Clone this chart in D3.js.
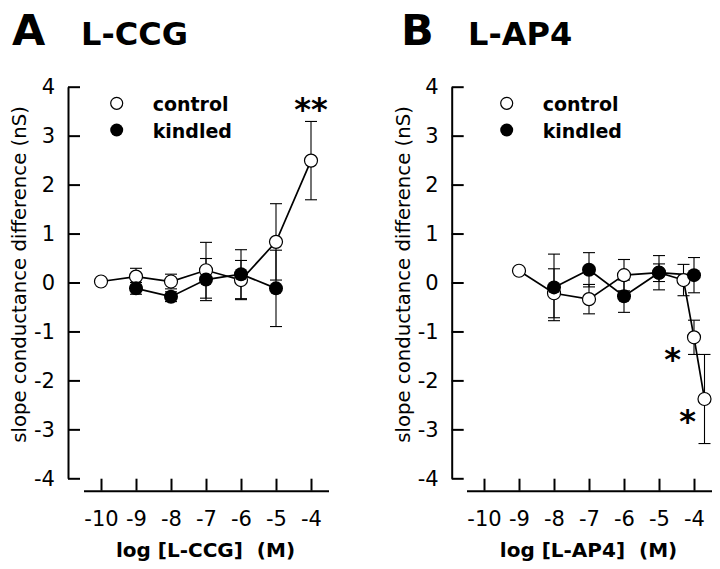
<!DOCTYPE html>
<html><head><meta charset="utf-8">
<script src="https://cdn.jsdelivr.net/npm/d3@7"></script>
<style>body{margin:0;background:#fff}svg{display:block}text{font-family:"DejaVu Sans",sans-serif;fill:#000;white-space:pre}</style>
</head><body><svg id="c" width="720" height="569"></svg>
<script>
const xTicks = [-10,-9,-8,-7,-6,-5,-4];
const yTicks = [-4,-3,-2,-1,0,1,2,3,4];

// Panel A: L-CCG
const ccgControlConc = [-10,-9,-8,-7,-6,-5,-4];
const ccgControl     = [0.02,0.12,0.02,0.25,0.05,0.83,2.49];
const ccgControlErr  = [0.04,0.17,0.15,0.57,0.40,0.78,0.80];
const ccgKindledConc = [-9,-8,-7,-6,-5];
const ccgKindled     = [-0.12,-0.29,0.06,0.17,-0.12];
const ccgKindledErr  = [0.12,0.10,0.43,0.50,0.78];
const ccgStars = [{x:-4.0, y:3.68, t:"**"}];

// Panel B: L-AP4
const ap4ControlConc = [-9,-8,-7,-6,-5,-4.3,-4,-3.7];
const ap4Control     = [0.24,-0.22,-0.34,0.15,0.20,0.05,-1.12,-2.38];
const ap4ControlErr  = [0.04,0.50,0.30,0.32,0.18,0.32,0.35,0.91];
const ap4KindledConc = [-8,-7,-6,-5,-4];
const ap4Kindled     = [-0.10,0.26,-0.28,0.20,0.15];
const ap4KindledErr  = [0.68,0.35,0.33,0.35,0.36];
const ap4Stars = [{x:-4.61, y:-1.43, t:"*"},{x:-4.18, y:-2.69, t:"*"}];

const panels = [
  {letter:"A", title:"L-CCG", xlabel:"log [L-CCG]  (M)", axisX:68, x0:83.5,
   letterX:12, titleX:81,
   control:{c:ccgControlConc, v:ccgControl, e:ccgControlErr},
   kindled:{c:ccgKindledConc, v:ccgKindled, e:ccgKindledErr},
   stars:ccgStars, legX:116.7, legTX:152.7},
  {letter:"B", title:"L-AP4", xlabel:"log [L-AP4]  (M)", axisX:451.7, x0:466.5,
   letterX:401, titleX:468,
   control:{c:ap4ControlConc, v:ap4Control, e:ap4ControlErr},
   kindled:{c:ap4KindledConc, v:ap4Kindled, e:ap4KindledErr},
   stars:ap4Stars, legX:506.7, legTX:542.7}
];

const svg = d3.select("#c");
const y = d3.scaleLinear().domain([-4,4]).range([478.3,86.7]);
const fmt = d => String(d);

panels.forEach(p => {
  const g = svg.append("g");
  const x = d3.scaleLinear().domain([-10.5,-3.5]).range([p.x0, p.x0+245]);

  // titles
  g.append("text").attr("x",p.letterX).attr("y",44.5).attr("font-size",43).attr("font-weight","bold").text(p.letter);
  g.append("text").attr("x",p.titleX).attr("y",44.5).attr("font-size",32).attr("font-weight","bold").text(p.title);

  // y axis
  const ya = g.append("g").attr("transform",`translate(${p.axisX},0)`)
    .call(d3.axisLeft(y).tickValues(yTicks).tickSize(-12).tickSizeOuter(0).tickPadding(13).tickFormat(fmt));
  ya.selectAll("path,line").attr("stroke","#000").attr("stroke-width",2);
  ya.selectAll("text").attr("font-size",21).attr("font-family","DejaVu Sans").attr("fill","#000");

  // x axis
  const xa = g.append("g").attr("transform","translate(0,490.7)")
    .call(d3.axisBottom(x).tickValues(xTicks).tickSize(-12).tickSizeOuter(0).tickPadding(20).tickFormat(fmt));
  xa.selectAll("path,line").attr("stroke","#000").attr("stroke-width",2);
  xa.selectAll("text").attr("font-size",21).attr("font-family","DejaVu Sans").attr("fill","#000");

  // axis labels
  g.append("text").attr("transform",`translate(${p.axisX-42},${(y(4)+y(-4))/2-8}) rotate(-90)`)
    .attr("text-anchor","middle").attr("font-size",19.7).text("slope conductance difference (nS)");
  g.append("text").attr("x",p.x0+122).attr("y",557).attr("text-anchor","middle")
    .attr("font-size",20).attr("font-weight","bold").text(p.xlabel);

  const series = [p.control, p.kindled];
  const pts = series.map(s => s.c.map((c,i)=>({x:c, v:s.v[i], e:s.e[i]})));

  // error bars
  pts.forEach(arr => {
    arr.forEach(d => {
      const cx = x(d.x), yt = y(d.v+d.e), yb = y(d.v-d.e);
      g.append("line").attr("x1",cx).attr("x2",cx).attr("y1",yt).attr("y2",yb).attr("stroke","#000").attr("stroke-width",1.1);
      [yt,yb].forEach(yy => g.append("line").attr("x1",cx-6).attr("x2",cx+6).attr("y1",yy).attr("y2",yy).attr("stroke","#000").attr("stroke-width",1.1));
    });
  });
  // lines
  const line = d3.line().x(d=>x(d.x)).y(d=>y(d.v));
  pts.forEach(arr => g.append("path").attr("d",line(arr)).attr("fill","none").attr("stroke","#000").attr("stroke-width",1.7));
  // markers
  g.selectAll(null).data(pts[0]).join("circle").attr("cx",d=>x(d.x)).attr("cy",d=>y(d.v)).attr("r",6.5)
    .attr("fill","#fff").attr("stroke","#000").attr("stroke-width",1.2);
  g.selectAll(null).data(pts[1]).join("circle").attr("cx",d=>x(d.x)).attr("cy",d=>y(d.v)).attr("r",7).attr("fill","#000");

  // legend
  g.append("circle").attr("cx",p.legX).attr("cy",103.3).attr("r",6).attr("fill","#fff").attr("stroke","#000").attr("stroke-width",1.2);
  g.append("circle").attr("cx",p.legX).attr("cy",130).attr("r",6.5).attr("fill","#000");
  g.append("text").attr("x",p.legTX).attr("y",111).attr("font-size",19).attr("font-weight","bold").text("control");
  g.append("text").attr("x",p.legTX).attr("y",138).attr("font-size",19).attr("font-weight","bold").text("kindled");

  // significance stars
  p.stars.forEach(s => g.append("text").attr("x",x(s.x)).attr("y",y(s.y)+18).attr("text-anchor","middle")
    .attr("font-size",32).attr("font-weight","bold").text(s.t));
});
</script></body></html>
